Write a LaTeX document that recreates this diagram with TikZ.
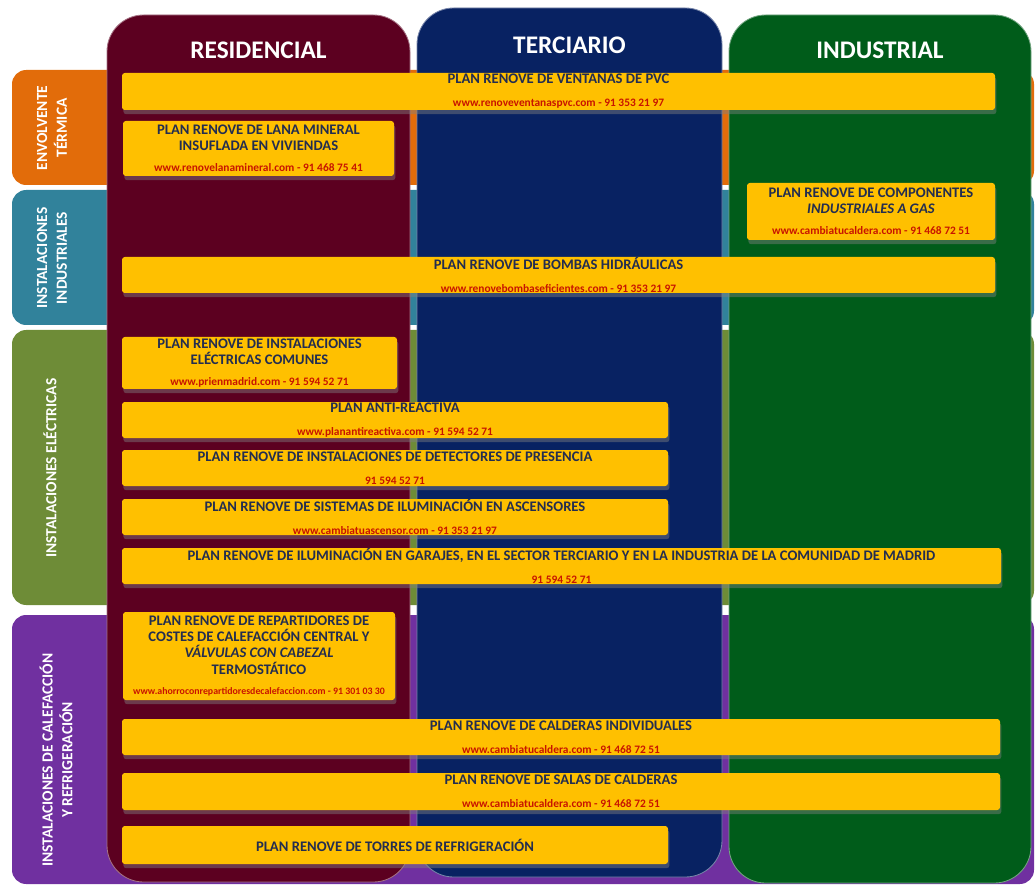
\documentclass[tikz,border=0pt]{standalone}
\usepackage{fontspec}
\setmainfont{Carlito}
\usepackage{tikz}
\usetikzlibrary{shadows,positioning}
\definecolor{envorange}{RGB}{226,108,10}
\definecolor{insteal}{RGB}{49,130,155}
\definecolor{eleolive}{RGB}{110,140,55}
\definecolor{calpurple}{RGB}{112,48,160}
\definecolor{resmaroon}{RGB}{92,0,32}
\definecolor{tercnavy}{RGB}{8,34,98}
\definecolor{indgreen}{RGB}{0,92,26}
\definecolor{planyellow}{RGB}{255,192,0}
\definecolor{plannavy}{RGB}{35,45,80}
\definecolor{planred}{RGB}{200,20,0}
\newcommand{\web}[1]{{\fontsize{8.1}{9}\selectfont\color{planred}#1}}

\begin{document}
\begin{tikzpicture}[x=0.025cm,y=-0.025cm,
  rowband/.style={rounded corners=10pt},
  sectorcol/.style={rounded corners=26pt,line width=0.6pt},
  header/.style={text=white,font=\bfseries\fontsize{18}{21}\selectfont},
  sector/.style={rotate=90,text=white,align=center,font=\bfseries\fontsize{11}{14}\selectfont},
  planbar/.style={fill=planyellow,rounded corners=2pt,inner sep=0pt,align=center,text=plannavy,
    font=\bfseries\fontsize{10.4}{11.5}\selectfont,
    drop shadow={opacity=0.45,shadow xshift=1pt,shadow yshift=-3pt}},
  barsize/.style 2 args={minimum width=#1*0.025cm,minimum height=#2*0.025cm}]
  \useasboundingbox (0,0) rectangle (1035,886);
  \foreach \name/\top/\bot/\col in {env/70/185/envorange,ins/190/325/insteal,ele/330/605/eleolive,cal/615/884/calpurple}
    \fill[\col,rowband] (12,\top) rectangle (1034,\bot);
  \node[sector] (envlab) at (52,128) {ENVOLVENTE\\TÉRMICA};
  \node[sector] (inslab) at (52,258) {INSTALACIONES\\INDUSTRIALES};
  \node[sector] (elelab) at (50,468) {INSTALACIONES ELÉCTRICAS};
  \node[sector] (callab) at (56,760) {INSTALACIONES DE CALEFACCIÓN\\Y REFRIGERACIÓN};
  \foreach \name/\xa/\xb/\top/\bot/\col/\lab/\ly in {res/107/410/15/882/resmaroon/RESIDENCIAL/50,
      ter/417/722/8/877/tercnavy/TERCIARIO/45,ind/729/1031/15/883/indgreen/INDUSTRIAL/50} {
    \filldraw[fill=\col,draw=\col!55!white,sectorcol] (\xa,\top) rectangle (\xb,\bot);
    \node[header] (\name) at ({(\xa+\xb)/2},\ly) {\lab};
  }
  \node[planbar,barsize={873}{37}] (ventanas) at (558.5,91.5)
    {PLAN RENOVE DE VENTANAS DE PVC\\[5pt]\web{www.renoveventanaspvc.com - 91 353 21 97}};
  \node[planbar,barsize={271}{55}] (lana) at (258.5,148.5)
    {PLAN RENOVE DE LANA MINERAL\\INSUFLADA EN VIVIENDAS\\[3.5pt]\web{www.renovelanamineral.com - 91 468 75 41}};
  \node[planbar,barsize={248}{57}] (componentes) at (871,211.5)
    {PLAN RENOVE DE COMPONENTES\\\textit{INDUSTRIALES A GAS}\\[3.5pt]\web{www.cambiatucaldera.com - 91 468 72 51}};
  \node[planbar,barsize={873}{36}] (bombas) at (558.5,275)
    {PLAN RENOVE DE BOMBAS HIDRÁULICAS\\[5pt]\web{www.renovebombaseficientes.com - 91 353 21 97}};
  \node[planbar,barsize={275}{52}] (comunes) at (259.5,363)
    {PLAN RENOVE DE INSTALACIONES\\ELÉCTRICAS COMUNES\\[3.5pt]\web{www.prienmadrid.com - 91 594 52 71}};
  \node[planbar,barsize={546}{36}] (antireactiva) at (395,420)
    {PLAN ANTI-REACTIVA\\[5pt]\web{www.planantireactiva.com - 91 594 52 71}};
  \node[planbar,barsize={546}{36}] (detectores) at (395,468)
    {PLAN RENOVE DE INSTALACIONES DE DETECTORES DE PRESENCIA\\[5pt]\web{91 594 52 71}};
  \node[planbar,barsize={546}{36}] (ascensores) at (395,517)
    {PLAN RENOVE DE SISTEMAS DE ILUMINACIÓN EN ASCENSORES\\[5pt]\web{www.cambiatuascensor.com - 91 353 21 97}};
  \node[planbar,barsize={879}{36}] (garajes) at (561.5,566)
    {PLAN RENOVE DE ILUMINACIÓN EN GARAJES, EN EL SECTOR TERCIARIO Y EN LA INDUSTRIA DE LA COMUNIDAD DE MADRID\\[5pt]\web{91 594 52 71}};
  \node[planbar,barsize={272}{88}] (repartidores) at (259,656)
    {PLAN RENOVE DE REPARTIDORES DE\\COSTES DE CALEFACCIÓN CENTRAL Y\\\textit{VÁLVULAS CON CABEZAL}\\TERMOSTÁTICO\\[3pt]{\fontsize{7}{8}\selectfont\color{planred}www.ahorroconrepartidoresdecalefaccion.com - 91 301 03 30}};
  \node[planbar,barsize={878}{36}] (calderas) at (561,737)
    {PLAN RENOVE DE CALDERAS INDIVIDUALES\\[5pt]\web{www.cambiatucaldera.com - 91 468 72 51}};
  \node[planbar,barsize={878}{37}] (salas) at (561,791.5)
    {PLAN RENOVE DE SALAS DE CALDERAS\\[5pt]\web{www.cambiatucaldera.com - 91 468 72 51}};
  \node[planbar,barsize={546}{38}] (torres) at (395,845)
    {PLAN RENOVE DE TORRES DE REFRIGERACIÓN};
\end{tikzpicture}
\end{document}
